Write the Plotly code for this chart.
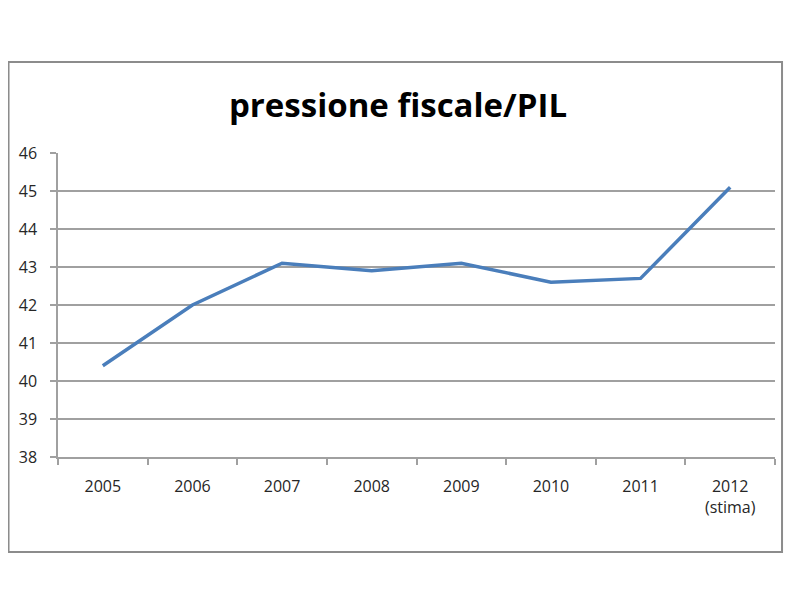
import plotly.graph_objects as go

# ----------------------------------
# DATA
# ----------------------------------

anni = ["2005", "2006", "2007", "2008", "2009", "2010", "2011", "2012"]
etichette = ["2005", "2006", "2007", "2008", "2009", "2010", "2011", "2012<br>(stima)"]
pressione = [40.4, 42.0, 43.1, 42.9, 43.1, 42.6, 42.7, 45.1]

y_ticks = [38, 39, 40, 41, 42, 43, 44, 45, 46]

# ----------------------------------
# FIGURE
# ----------------------------------

fig = go.Figure()

fig.add_trace(
    go.Scatter(
        x=anni,
        y=pressione,
        mode="lines",
        line=dict(color="#4a7ebb", width=3.5),
        showlegend=False
    )
)

grid_color = "#a0a0a0"

fig.update_layout(
    width=800,
    height=600,
    paper_bgcolor="white",
    plot_bgcolor="white",
    margin=dict(l=50, r=33, t=145, b=151, autoexpand=False),
    title=dict(
        text="<b>pressione fiscale/PIL</b>",
        x=0.4875,
        xanchor="center",
        y=0.838,
        yanchor="middle",
        font=dict(family="Open Sans", size=33, color="black")
    ),
    xaxis=dict(
        type="category",
        range=[-0.5, 7.5],
        tickvals=anni,
        ticktext=etichette,
        tickson="boundaries",
        ticks="outside",
        ticklen=6,
        tickcolor=grid_color,
        tickwidth=1.5,
        ticklabelstandoff=14,
        showline=True,
        linecolor=grid_color,
        linewidth=2,
        showgrid=False,
        tickfont=dict(family="Open Sans", size=16, color="#262626")
    ),
    yaxis=dict(
        range=[38, 46],
        tickvals=y_ticks,
        ticks="outside",
        ticklen=6,
        tickcolor=grid_color,
        tickwidth=1.5,
        ticklabelstandoff=10,
        showline=True,
        linecolor=grid_color,
        linewidth=1.5,
        showgrid=True,
        gridcolor=grid_color,
        gridwidth=2,
        zeroline=False,
        tickfont=dict(family="Open Sans", size=16, color="#262626")
    ),
    shapes=[
        dict(
            type="rect",
            xref="paper",
            yref="paper",
            x0=-0.069,
            x1=1.0098,
            y0=-0.3125,
            y1=1.299,
            line=dict(color="#8c8c8c", width=2),
            layer="below"
        )
    ]
)

fig.write_html("out.html")
